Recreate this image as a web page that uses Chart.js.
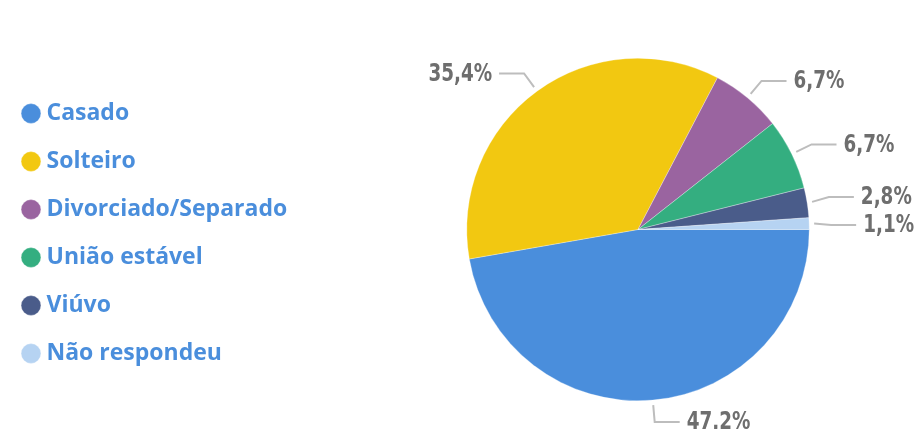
<!DOCTYPE html>
<html>
<head>
<meta charset="utf-8">
<script src="https://cdn.jsdelivr.net/npm/chart.js@4/dist/chart.umd.min.js"></script>
<style>
  html, body { margin: 0; padding: 0; background: #fff; }
  #wrap { width: 915px; height: 429px; position: relative; }
</style>
</head>
<body>
<div id="wrap"><canvas id="chart"></canvas></div>
<script>
(function () {

  const categories = ["Casado", "Solteiro", "Divorciado/Separado", "União estável", "Viúvo", "Não respondeu"];
  const percentValues = [47.2, 35.4, 6.7, 6.7, 2.8, 1.1];
  const sliceColors = ["#4a8edc", "#f2c811", "#9a64a0", "#34ae80", "#4a5c8a", "#b6d3f2"];

  function formatPercent(value) {
    return value.toFixed(1).replace(".", ",") + "%";
  }

  // legend box keeps a fixed width so the pie sits where the original has it
  const fixedLegendWidth = {
    id: "fixedLegendWidth",
    beforeLayout(chart) {
      const legend = chart.legend;
      if (legend && !legend._fixedWidth) {
        const fit = legend.fit.bind(legend);
        legend.fit = function () {
          fit();
          this.width = 359;
        };
        legend._fixedWidth = true;
      }
    }
  };

  // leader lines + percent labels outside the pie
  const outsideLabels = {
    id: "outsideLabels",
    afterDatasetsDraw(chart) {
      const ctx = chart.ctx;
      const arcs = chart.getDatasetMeta(0).data;
      const items = arcs.map(function (arc, i) {
        const p = arc.getProps(["x", "y", "startAngle", "endAngle", "outerRadius"], true);
        const mid = (p.startAngle + p.endAngle) / 2;
        const cos = Math.cos(mid);
        const sin = Math.sin(mid);
        return {
          text: formatPercent(percentValues[i]),
          right: cos >= 0,
          sx: p.x + cos * (p.outerRadius + 5),
          sy: p.y + sin * (p.outerRadius + 5),
          ex: p.x + cos * (p.outerRadius + 22),
          ey: p.y + sin * (p.outerRadius + 22)
        };
      });

      // push apart labels that sit too close on the same side
      [true, false].forEach(function (side) {
        const group = items.filter(it => it.right === side).sort((a, b) => a.ey - b.ey);
        for (let pass = 0; pass < 10; pass++) {
          for (let k = 1; k < group.length; k++) {
            const gap = group[k].ey - group[k - 1].ey;
            if (gap < 28) {
              const shift = (28 - gap) / 2;
              group[k - 1].ey -= shift;
              group[k].ey += shift;
            }
          }
        }
      });

      const squeeze = 0.85;
      ctx.save();
      ctx.strokeStyle = "#bdbdbd";
      ctx.lineWidth = 2;
      ctx.fillStyle = "#6e6e6e";
      ctx.font = "bold 24px 'DejaVu Sans Condensed', 'DejaVu Sans', sans-serif";
      ctx.fontStretch = "condensed";
      ctx.textBaseline = "middle";
      items.forEach(function (it) {
        const hx = it.right ? it.ex + 25 : it.ex - 25;
        ctx.beginPath();
        ctx.moveTo(it.sx, it.sy);
        ctx.lineTo(it.ex, it.ey);
        ctx.lineTo(hx, it.ey);
        ctx.stroke();
        const tx = it.right ? hx + 7 : hx - 7;
        ctx.save();
        ctx.translate(tx, it.ey + 1);
        ctx.scale(squeeze, 1);
        ctx.textAlign = it.right ? "left" : "right";
        ctx.fillText(it.text, 0, 0);
        ctx.restore();
      });
      ctx.restore();
    }
  };

  new Chart(document.getElementById("chart"), {
    type: "pie",
    data: {
      labels: categories,
      datasets: [{
        data: percentValues,
        backgroundColor: sliceColors,
        borderColor: "rgba(255,255,255,0.6)",
        borderWidth: 0.5
      }]
    },
    options: {
      responsive: true,
      maintainAspectRatio: false,
      animation: false,
      rotation: 90,
      layout: {
        padding: { top: 58, bottom: 28, left: 2, right: 0 }
      },
      plugins: {
        tooltip: { enabled: false },
        legend: {
          position: "left",
          title: { display: true, text: " ", font: { size: 8, lineHeight: 1 }, padding: 0 },
          labels: {
            usePointStyle: true,
            pointStyle: "circle",
            boxWidth: 8,
            boxHeight: 14,
            padding: 25,
            color: "#4a8edc",
            font: { family: "'Open Sans', 'Noto Sans', sans-serif", size: 23, weight: "bold" }
          }
        }
      }
    },
    plugins: [fixedLegendWidth, outsideLabels]
  });

})();
</script>
</body>
</html>
